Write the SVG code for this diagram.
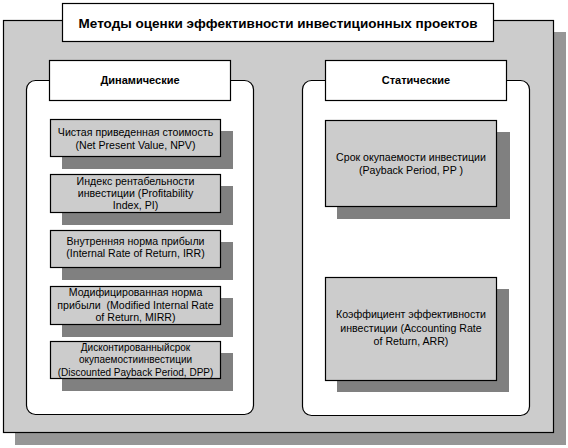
<svg xmlns="http://www.w3.org/2000/svg" width="568" height="448" viewBox="0 0 568 448">
<style>
  .frame{fill:#cccccc;stroke:#000;stroke-width:1.2}
  .fshadow{fill:#969696}
  .panel{fill:#fff;stroke:#000;stroke-width:1.2}
  .hdr{fill:#fff;stroke:#000;stroke-width:1.2}
  .box{fill:#cccccc;stroke:#000;stroke-width:1.2}
  .shadow{fill:#808080}
  text{font-family:"Liberation Sans",Arial,sans-serif;fill:#000;text-anchor:middle}
  .title{font-size:13.5px;font-weight:bold}
  .htxt{font-size:11px;font-weight:bold}
  .t{font-size:10.6px}
  .ts{font-size:10px}
</style>
<rect x="0" y="0" width="568" height="448" fill="#fff"/>
<g id="frame">
  <rect class="fshadow" x="15" y="32" width="551" height="413"/>
  <rect class="frame" x="3.5" y="20.5" width="550" height="412"/>
</g>
<g id="title">
  <rect class="hdr" x="62.5" y="3.5" width="431" height="38"/>
  <text class="title" x="278" y="27.5">Методы оценки эффективности инвестиционных проектов</text>
</g>
<g id="panel-dynamic">
  <rect class="panel" x="26.5" y="80.5" width="227" height="334" rx="9" ry="9"/>
</g>
<g id="panel-static">
  <rect class="panel" x="302.5" y="80.5" width="227" height="335" rx="9" ry="9"/>
</g>
<g id="hdr-dynamic">
  <rect class="hdr" x="49.5" y="60.5" width="181" height="40"/>
  <text class="htxt" x="140" y="84">Динамические</text>
</g>
<g id="hdr-static">
  <rect class="hdr" x="325.5" y="60.5" width="181" height="40"/>
  <text class="htxt" x="416" y="84">Статические</text>
</g>
<g id="npv">
  <rect class="shadow" x="62" y="131" width="171" height="38"/>
  <rect class="box" x="50.5" y="119.5" width="170" height="37"/>
  <text class="t" x="135.5" y="136">Чистая приведенная стоимость</text>
  <text class="t" x="135.5" y="148.5">(Net Present Value, NPV)</text>
</g>
<g id="pi">
  <rect class="shadow" x="62" y="186" width="171" height="39"/>
  <rect class="box" x="50.5" y="174.5" width="170" height="38"/>
  <text class="t" x="135.5" y="184.5">Индекс рентабельности</text>
  <text class="t" x="135.5" y="196.5">инвестиции (Profitability</text>
  <text class="t" x="135.5" y="208.5">Index, PI)</text>
</g>
<g id="irr">
  <rect class="shadow" x="62" y="242" width="171" height="38"/>
  <rect class="box" x="50.5" y="230.5" width="170" height="37"/>
  <text class="t" x="135.5" y="244.5">Внутренняя норма прибыли</text>
  <text class="t" x="135.5" y="257">(Internal Rate of Return, IRR)</text>
</g>
<g id="mirr">
  <rect class="shadow" x="62" y="298" width="171" height="39"/>
  <rect class="box" x="50.5" y="286.5" width="170" height="38"/>
  <text class="t" x="135.5" y="296">Модифицированная норма</text>
  <text class="t" x="135.5" y="308.5" xml:space="preserve">прибыли  (Modified Internal Rate</text>
  <text class="t" x="135.5" y="321">of Return, MIRR)</text>
</g>
<g id="dpp">
  <rect class="shadow" x="62" y="353" width="171" height="38"/>
  <rect class="box" x="50.5" y="341.5" width="170" height="37"/>
  <text class="ts" x="135.5" y="350.5">Дисконтированныйсрок</text>
  <text class="ts" x="135.5" y="363">окупаемостиинвестиции</text>
  <text class="ts" x="135.5" y="375.5">(Discounted Payback Period, DPP)</text>
</g>
<g id="pp">
  <rect class="shadow" x="337" y="132" width="173" height="87"/>
  <rect class="box" x="325.5" y="120.5" width="171" height="86"/>
  <text class="t" x="411" y="160.5">Срок окупаемости инвестиции</text>
  <text class="t" x="411" y="173.5">(Payback Period, PP )</text>
</g>
<g id="arr">
  <rect class="shadow" x="337" y="289" width="172" height="103"/>
  <rect class="box" x="325.5" y="277.5" width="171" height="103"/>
  <text class="t" x="411" y="318">Коэффициент эффективности</text>
  <text class="t" x="411" y="331.5">инвестиции (Accounting Rate</text>
  <text class="t" x="411" y="345">of Return, ARR)</text>
</g>
<g id="connectors"></g>
</svg>
